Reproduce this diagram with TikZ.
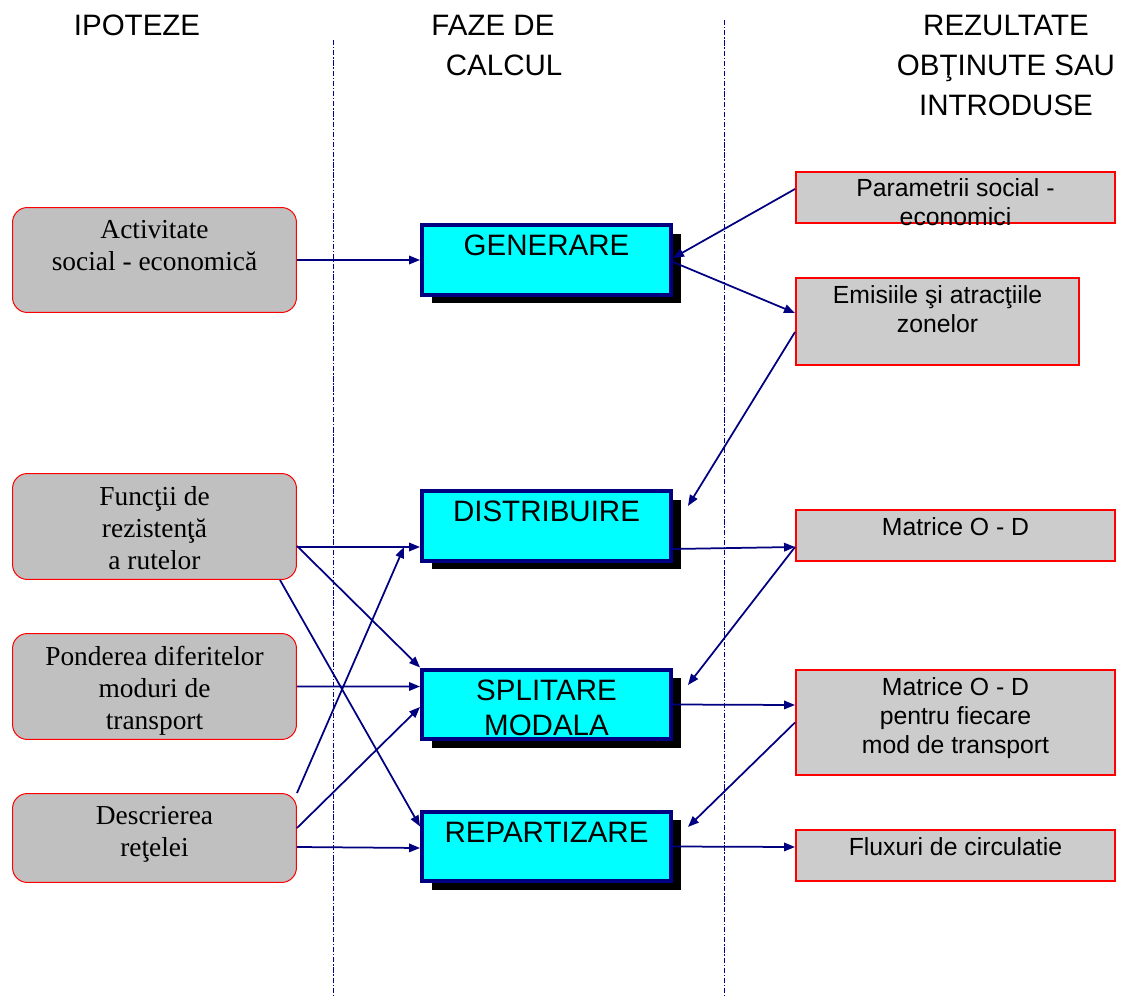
\documentclass[tikz,border=0pt]{standalone}
\usepackage{fontspec}
\setmainfont{Liberation Serif}
\newfontfamily\arialfont{Liberation Sans}
\usetikzlibrary{arrows.meta,shadows}

\definecolor{navyline}{RGB}{0,0,128}
\definecolor{phasecyan}{RGB}{0,255,255}
\definecolor{hypgray}{RGB}{192,192,192}
\definecolor{resgray}{RGB}{204,204,204}

\tikzset{
  hypbox/.style={draw=red, line width=0.02cm, fill=hypgray, rounded corners=0.3cm,
    minimum width=5.68cm, inner sep=0pt},
  phasebox/.style={draw=navyline, line width=0.08cm, fill=phasecyan, minimum width=4.98cm,
    minimum height=1.4cm, inner sep=0pt,
    drop shadow={shadow xshift=0.2cm, shadow yshift=-0.17cm, fill=black, opacity=1}},
  resbox/.style={draw=red, line width=0.04cm, fill=resgray, inner sep=0pt},
  hyptxt/.style={anchor=north, yshift=-0.26cm, inner sep=0pt, align=center,
    font=\fontsize{15.6}{18.2}\selectfont},
  phasetxt/.style={anchor=north, yshift=-0.24cm, inner sep=0pt, align=center,
    font=\arialfont\fontsize{16.8}{19.9}\selectfont},
  restxt/.style={anchor=north, yshift=-0.16cm, inner sep=0pt, align=center,
    font=\arialfont\fontsize{14.1}{16.5}\selectfont},
  headtxt/.style={anchor=north, inner sep=0pt, align=center,
    font=\arialfont\fontsize{16.8}{22.8}\selectfont},
  flow/.style={draw=navyline, line width=0.035cm, -{Triangle[length=0.22cm,width=0.17cm]}},
  colsep/.style={navyline, line width=0.02cm, dash pattern=on 3pt off 1pt on 0.8pt off 1pt}
}

\begin{document}
\begin{tikzpicture}[x=0.02cm, y=-0.02cm]
    \useasboundingbox (0,0) rectangle (1122,996);

    \draw[colsep] (333,40) -- (333,996);
    \draw[colsep] (724,20) -- (724,996);

    \node[headtxt] (hip) at (137,15) {IPOTEZE};
    \node[headtxt] (faz) at (493,15) {FAZE DE\\\hspace*{0.75em}CALCUL};
    \node[headtxt] (rzl) at (1006,15) {REZULTATE\\OBŢINUTE SAU\\INTRODUSE};

    \node[hypbox, minimum height=2.1cm, label={[hyptxt]north:{Activitate\\social - economică}}] (act) at (154.5,260) {};
    \node[hypbox, minimum height=2.12cm, label={[hyptxt]north:{Funcţii de\\rezistenţă\\a rutelor}}] (rez) at (154.5,526.5) {};
    \node[hypbox, minimum height=2.12cm, label={[hyptxt]north:{Ponderea diferitelor\\moduri de\\transport}}] (pond) at (154.5,686.5) {};
    \node[hypbox, minimum height=1.78cm, label={[hyptxt]north:{Descrierea\\reţelei}}] (retea) at (154.5,838) {};

    \node[phasebox, label={[phasetxt]north:GENERARE}] (gen) at (546.5,260) {};
    \node[phasebox, label={[phasetxt]north:DISTRIBUIRE}] (dist) at (546.5,526) {};
    \node[phasebox, label={[phasetxt]north:{SPLITARE\\MODALA}}] (split) at (546.5,704.5) {};
    \node[phasebox, label={[phasetxt]north:REPARTIZARE}] (rep) at (546.5,846.5) {};

    \node[resbox, minimum width=6.38cm, minimum height=1.02cm, label={[restxt, yshift=0.02cm]north:{Parametrii social -\\economici}}] (param) at (955.5,197.5) {};
    \node[resbox, minimum width=5.66cm, minimum height=1.74cm, label={[restxt]north:{Emisiile şi atracţiile\\zonelor}}] (emis) at (937.5,321.5) {};
    \node[resbox, minimum width=6.38cm, minimum height=1.02cm, label={[restxt]north:{Matrice O - D}}] (matod) at (955.5,535.5) {};
    \node[resbox, minimum width=6.38cm, minimum height=2.1cm, label={[restxt]north:{Matrice O - D\\pentru fiecare\\mod de transport}}] (matmod) at (955.5,722.5) {};
    \node[resbox, minimum width=6.38cm, minimum height=1.02cm, label={[restxt]north:{Fluxuri de circulatie}}] (flux) at (955.5,855.5) {};

    \draw[flow] (act.east) -- (gen.west);
    \draw[flow] ([yshift=0.17cm]param.west) -- ([yshift=0.04cm]gen.east);
    \draw[flow] ([yshift=-0.04cm]gen.east) -- ([yshift=0.17cm]emis.west);
    \draw[flow] ([yshift=-0.21cm]emis.west) -- ([xshift=0.3cm,yshift=0.4cm]dist.east);

    \draw[flow] ([yshift=-0.41cm]rez.east) -- ([yshift=-0.42cm]dist.west);
    \draw[flow] ([yshift=-0.39cm]rez.east) -- (split.north west);
    \draw[flow] ([xshift=-0.34cm]rez.south east) -- ([yshift=-0.34cm]rep.north west);
    \draw[flow] (pond.east) -- ([yshift=0.36cm]split.west);
    \draw[flow] (retea.north east) -- ([xshift=-0.32cm,yshift=-0.42cm]dist.west);
    \draw[flow] ([yshift=0.2cm]retea.east) -- ([yshift=-0.05cm]split.west);
    \draw[flow] ([yshift=-0.18cm]retea.east) -- ([yshift=-0.03cm]rep.west);

    \draw[flow] ([yshift=-0.46cm]dist.east) -- ([yshift=-0.23cm]matod.west);
    \draw[flow] ([yshift=-0.23cm]matod.west) -- ([xshift=0.3cm,yshift=0.39cm]split.east);
    \draw[flow] (split.east) -- ([yshift=0.35cm]matmod.west);
    \draw[flow] (matmod.west) -- ([xshift=0.3cm,yshift=0.39cm]rep.east);
    \draw[flow] (rep.east) -- ([yshift=0.17cm]flux.west);
\end{tikzpicture}
\end{document}
